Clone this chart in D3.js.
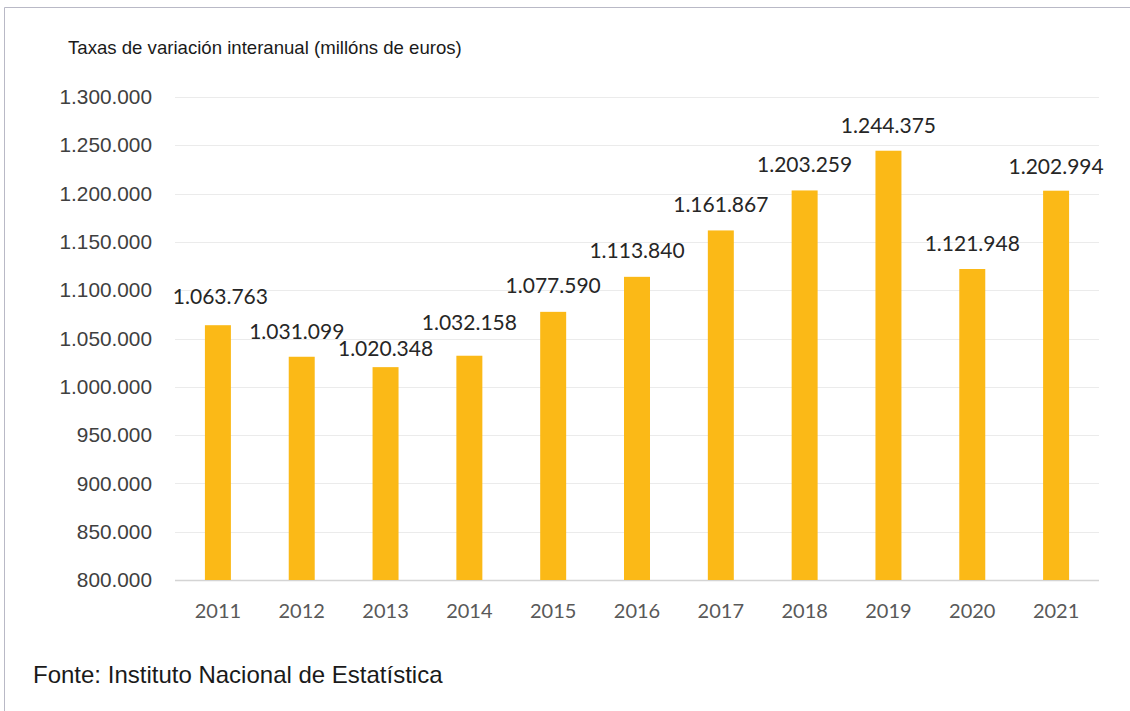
<!DOCTYPE html>
<html><head><meta charset="utf-8">
<script src="https://cdn.jsdelivr.net/npm/d3@7"></script>
<style>html,body{margin:0;padding:0;background:#fff;}svg{display:block;}</style>
</head><body>
<svg id="c" width="1130" height="711"></svg>
<script>
const categories = ["2011","2012","2013","2014","2015","2016","2017","2018","2019","2020","2021"];
const values = [1063763,1031099,1020348,1032158,1077590,1113840,1161867,1203259,1244375,1121948,1202994];
const valueLabels = ["1.063.763","1.031.099","1.020.348","1.032.158","1.077.590","1.113.840","1.161.867","1.203.259","1.244.375","1.121.948","1.202.994"];
const yTicks = [800000,850000,900000,950000,1000000,1050000,1100000,1150000,1200000,1250000,1300000];
const titleText = "Taxas de variación interanual (millóns de euros)";
const sourceText = "Fonte: Instituto Nacional de Estatística";

const svg = d3.select("#c");
// frame
svg.append("line").attr("x1",4.5).attr("x2",1130).attr("y1",7.5).attr("y2",7.5).attr("stroke","#b9b9c6").attr("stroke-width",1);
svg.append("line").attr("x1",4.5).attr("x2",4.5).attr("y1",7.5).attr("y2",711).attr("stroke","#b9b9c6").attr("stroke-width",1);

const x = d3.scaleBand().domain(categories).range([176,1098]).paddingInner(0.69).paddingOuter(0.345);
const y = d3.scaleLinear().domain([800000,1300000]).range([580,97]);
const fmt = d => d3.format(",")(d).replace(/,/g,".");

// gridlines
svg.append("g").selectAll("line").data(yTicks).join("line")
  .attr("x1",175).attr("x2",1099)
  .attr("y1",d=>Math.round(y(d))+0.5).attr("y2",d=>Math.round(y(d))+0.5)
  .attr("stroke",d=>d===800000?"#d4d4d4":"#ebebeb").attr("stroke-width",d=>d===800000?1.5:1);

// y axis labels
const yAxis = d3.axisLeft(y).tickValues(yTicks).tickFormat(fmt).tickSize(0).tickPadding(0);
const ga = svg.append("g").attr("transform","translate(152,0)").call(yAxis);
ga.select(".domain").remove();
ga.selectAll("text").attr("font-family","Liberation Sans, Arial, sans-serif").attr("font-size",20.8).attr("fill","#404040");

// bars
svg.append("g").selectAll("rect").data(values).join("rect")
  .attr("x",(d,i)=>x(categories[i])).attr("width",x.bandwidth())
  .attr("y",d=>y(d)).attr("height",d=>y(800000)-y(d))
  .attr("fill","#fbb917");

// value labels (manual label placement nudges as in the original, in px)
const nudge = {"2011":[2.5,-3],"2012":[-5,0],"2013":[0,7],"2014":[0,-8],"2015":[0,-1],"2016":[0,-1],"2021":[0,1]};
svg.append("g").selectAll("text").data(values).join("text")
  .attr("x",(d,i)=>x(categories[i])+x.bandwidth()/2+((nudge[categories[i]]||[0,0])[0]))
  .attr("y",(d,i)=>y(d)-18+((nudge[categories[i]]||[0,0])[1]))
  .attr("text-anchor","middle")
  .attr("font-family","Lato, Carlito, sans-serif").attr("font-size",21).attr("fill","#262626")
  .text((d,i)=>valueLabels[i]);

// x axis labels
const xAxis = d3.axisBottom(x).tickSize(0).tickPadding(0);
const gx = svg.append("g").attr("transform","translate(0,618)").call(xAxis);
gx.select(".domain").remove();
gx.selectAll("text").attr("dy",0).attr("font-family","Lato, Carlito, sans-serif").attr("font-size",20).attr("fill","#595959");

// title
svg.append("text").attr("x",68).attr("y",54).attr("font-family","Liberation Sans, Arial, sans-serif")
  .attr("font-size",18.6).attr("fill","#1a1a1a").text(titleText);
// source
svg.append("text").attr("x",33).attr("y",683).attr("font-family","Liberation Sans, Arial, sans-serif")
  .attr("font-size",24).attr("fill","#1a1a1a").text(sourceText);
</script>
</body></html>
